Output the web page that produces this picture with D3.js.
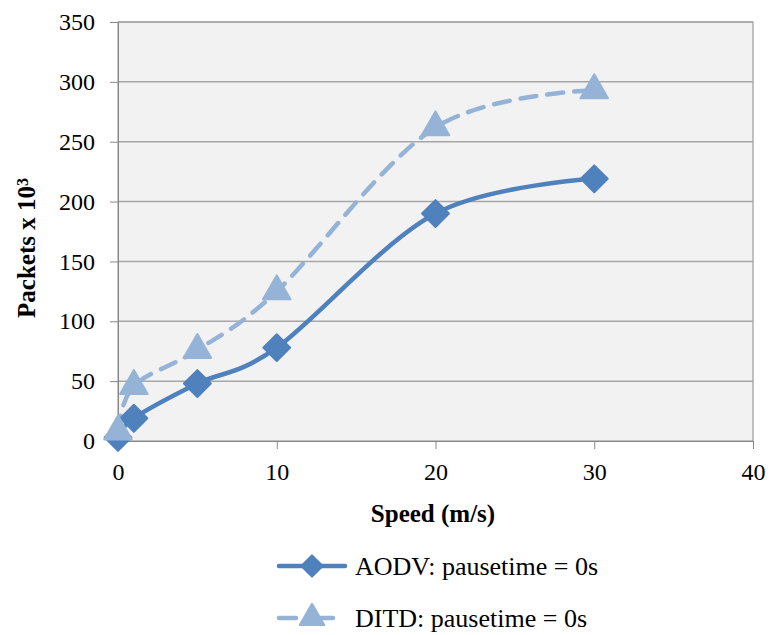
<!DOCTYPE html>
<html>
<head>
<meta charset="utf-8">
<script src="https://cdn.jsdelivr.net/npm/d3@7"></script>
<style>
  body { margin: 0; background: #fff; }
  svg { display: block; font-family: "Liberation Serif", "Times New Roman", serif; }
  svg text { font-family: "Liberation Serif", "Times New Roman", serif !important; }
</style>
</head>
<body>
<div id="chart"></div>
<script>
const speeds = [0, 1, 5, 10, 20, 30];
const aodv = [3, 19, 48, 78, 190, 219];
const ditd = [8, 46, 76, 125, 262, 293];
const xTicks = [0, 10, 20, 30, 40];
const yTicks = [0, 50, 100, 150, 200, 250, 300, 350];
const seriesNames = ["AODV: pausetime = 0s", "DITD: pausetime = 0s"];

const width = 771, height = 635;
const margin = { top: 22, right: 18, bottom: 194, left: 118 };
const innerW = width - margin.left - margin.right;
const innerH = height - margin.top - margin.bottom;

const svg = d3.select("#chart").append("svg")
    .attr("width", width)
    .attr("height", height);

const g = svg.append("g")
    .attr("transform", `translate(${margin.left},${margin.top})`);

const x = d3.scaleLinear().domain([0, 40]).range([0, innerW]);
const y = d3.scaleLinear().domain([0, 350]).range([innerH, 0]);

g.append("rect")
    .attr("width", innerW)
    .attr("height", innerH)
    .attr("fill", "#f2f2f2")
    .attr("stroke", "#888")
    .attr("stroke-width", 1);

// gridlines
g.append("g")
    .selectAll("line")
    .data(yTicks.filter(d => d > 0))
    .enter()
    .append("line")
    .attr("x1", 0)
    .attr("x2", innerW)
    .attr("y1", d => y(d))
    .attr("y2", d => y(d))
    .attr("stroke", "#a6a6a6")
    .attr("stroke-width", 1.5);

const yAxis = g.append("g")
    .call(d3.axisLeft(y).tickValues(yTicks).tickSize(8).tickPadding(15).tickFormat(d3.format("d")));
yAxis.attr("font-size", 24);
yAxis.select(".domain").attr("stroke", "#888");
yAxis.selectAll(".tick line").attr("stroke", "#888");
yAxis.selectAll("text").attr("fill", "#000");

const xAxis = g.append("g")
    .attr("transform", `translate(0,${innerH})`)
    .call(d3.axisBottom(x).tickValues(xTicks).tickSize(8).tickPadding(14).tickFormat(d3.format("d")));
xAxis.attr("font-size", 24);
xAxis.select(".domain").attr("stroke", "#888");
xAxis.selectAll(".tick line").attr("stroke", "#888");
xAxis.selectAll("text").attr("fill", "#000");

// axis titles
svg.append("text")
    .attr("x", 433)
    .attr("y", 522)
    .attr("text-anchor", "middle")
    .style("font-size", "25px")
    .style("font-weight", "bold")
    .text("Speed (m/s)");

const yTitle = svg.append("text")
    .attr("transform", `translate(35,248) rotate(-90)`)
    .attr("text-anchor", "middle")
    .style("font-size", "25px")
    .style("font-weight", "bold");
yTitle.append("tspan").text("Packets x 10");
yTitle.append("tspan").attr("dy", "-0.45em").style("font-size", "16px").text("3");

const line = d3.line()
    .x(d => x(d[0]))
    .y(d => y(d[1]))
    .curve(d3.curveCatmullRom.alpha(0));

const colA = "#4f81bd", colD = "#95b3d7";
const diamond = d3.symbol().type(d3.symbolSquare).size(19 * 19);
const triangle = d3.symbol().type(d3.symbolTriangle).size(330);

const ditdPts = speeds.map((s, i) => [s, ditd[i]]);
const aodvPts = speeds.map((s, i) => [s, aodv[i]]);

g.append("path")
    .datum(ditdPts)
    .attr("d", line)
    .attr("fill", "none")
    .attr("stroke", colD)
    .attr("stroke-width", 4.5)
    .attr("stroke-dasharray", "16,11")
    .attr("stroke-linecap", "round");

g.append("path")
    .datum(aodvPts)
    .attr("d", line)
    .attr("fill", "none")
    .attr("stroke", colA)
    .attr("stroke-width", 4.5);

g.append("g").selectAll("path")
    .data(aodvPts)
    .enter()
    .append("path")
    .attr("d", diamond)
    .attr("transform", d => `translate(${x(d[0])},${y(d[1])}) rotate(45)`)
    .attr("fill", colA)
    .attr("stroke", colA)
    .attr("stroke-width", 2)
    .attr("stroke-linejoin", "round");

g.append("g").selectAll("path")
    .data(ditdPts)
    .enter()
    .append("path")
    .attr("d", triangle)
    .attr("transform", d => `translate(${x(d[0])},${y(d[1])})`)
    .attr("fill", colD)
    .attr("stroke", colD)
    .attr("stroke-width", 2)
    .attr("stroke-linejoin", "round");

// legend
const legend = svg.append("g");
const rows = [
    { name: seriesNames[0], color: colA, dash: null, rot: 45, y: 566 },
    { name: seriesNames[1], color: colD, dash: "17,20", rot: 0, y: 618 }
];
rows.forEach(r => {
    legend.append("line")
        .attr("x1", 279).attr("x2", 345)
        .attr("y1", r.y).attr("y2", r.y)
        .attr("stroke", r.color)
        .attr("stroke-width", 4.5)
        .attr("stroke-linecap", "round")
        .attr("stroke-dasharray", r.dash);
    legend.append("path")
        .attr("d", r.rot ? d3.symbol().type(d3.symbolSquare).size(15 * 15)() : d3.symbol().type(d3.symbolTriangle).size(260)())
        .attr("transform", `translate(312,${r.y}) rotate(${r.rot})`)
        .attr("fill", r.color)
        .attr("stroke", r.color)
        .attr("stroke-width", 2)
        .attr("stroke-linejoin", "round");
    legend.append("text")
        .attr("x", 355)
        .attr("y", r.y + 9)
        .style("font-size", "26px")
        .text(r.name);
});
</script>
</body>
</html>
